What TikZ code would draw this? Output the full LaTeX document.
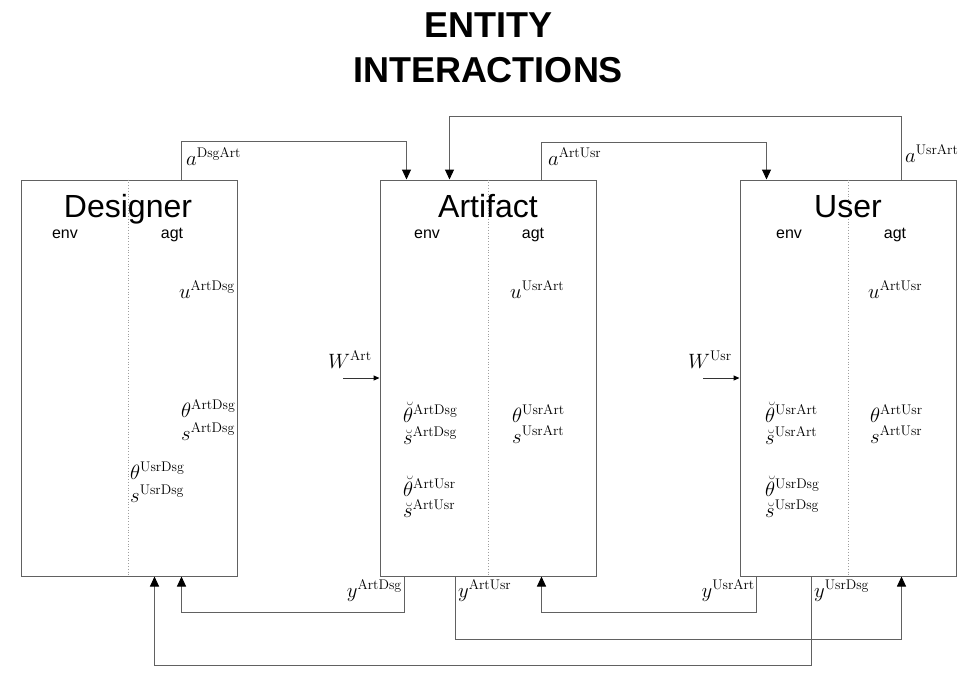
\documentclass[tikz,border=0pt]{standalone}
\usepackage{amsmath}
\usepackage{fontspec}
\setsansfont{Liberation Sans}
\usepackage{tikz}
\usetikzlibrary{arrows.meta, positioning}
\colorlet{linegray}{black!62}

\begin{document}
\begin{tikzpicture}[
  x=1pt, y=-1pt,
  entity/.style={draw=linegray, line width=1pt, minimum width=216pt, minimum height=396pt,
                 inner sep=0pt},
  divider/.style={draw=gray!75, dotted, line width=0.8pt},
  ename/.style={anchor=base, inner sep=0pt, font=\sffamily\fontsize{32}{38}\selectfont},
  side/.style={anchor=base, inner sep=0pt, font=\sffamily\fontsize{16}{19}\selectfont},
  sym/.style={inner sep=0pt, font=\fontsize{20}{24}\selectfont},
  arr/.style={draw=linegray, line width=1pt, -{Triangle[length=10pt, width=9pt, color=black]}},
  inarr/.style={draw=black!80, line width=1pt, -{Triangle[length=6pt, width=5pt, color=black]}},
  font=\sffamily
]
  \useasboundingbox (0,0) rectangle (976,681);
  \node[align=center, font=\sffamily\bfseries\fontsize{36}{45}\selectfont] (ttl) at (488,48) {ENTITY\\INTERACTIONS};

  \node[entity] (dsg) at (129,378) {};
  \node[entity, right=142pt of dsg] (art) {};
  \node[entity, right=143pt of art] (usr) {};

  \draw[divider] ([xshift=-1]dsg.north) -- ([xshift=-1]dsg.south);
  \draw[divider] (art.north) -- (art.south);
  \draw[divider] (usr.north) -- (usr.south);

  \node[ename] (dsgname) at (128,217) {Designer};
  \node[ename] (artname) at (488,217) {Artifact};
  \node[ename] (usrname) at (848,217) {User};
  \node[side] (dsgenv) at (65,238) {env};
  \node[side] (dsgagt) at (172,238) {agt};
  \node[side] (artenv) at (427,238) {env};
  \node[side] (artagt) at (533,238) {agt};
  \node[side] (usrenv) at (789,238) {env};
  \node[side] (usragt) at (895,238) {agt};

  \node[sym, anchor=base east] (uAD) at (235,298) {$u^{\mathrm{ArtDsg}}$};
  \node[sym, anchor=base west] (thAD) at (181,417) {$\theta^{\mathrm{ArtDsg}}$};
  \node[sym, anchor=base west] (sAD) at (181,440) {$s^{\mathrm{ArtDsg}}$};
  \node[sym, anchor=base west] (thUD) at (130,479) {$\theta^{\mathrm{UsrDsg}}$};
  \node[sym, anchor=base west] (sUD) at (130,502) {$s^{\mathrm{UsrDsg}}$};

  \node[sym, anchor=base west] (uUA) at (510,298) {$u^{\mathrm{UsrArt}}$};
  \node[sym, anchor=base west] (thUA) at (512,422) {$\theta^{\mathrm{UsrArt}}$};
  \node[sym, anchor=base west] (sUA) at (512,443) {$s^{\mathrm{UsrArt}}$};
  \node[sym, anchor=base west] (bthAD) at (403,422) {$\breve{\theta}^{\mathrm{ArtDsg}}$};
  \node[sym, anchor=base west] (bsAD) at (403,444) {$\breve{s}^{\mathrm{ArtDsg}}$};
  \node[sym, anchor=base west] (bthAU) at (403,496) {$\breve{\theta}^{\mathrm{ArtUsr}}$};
  \node[sym, anchor=base west] (bsAU) at (403,517) {$\breve{s}^{\mathrm{ArtUsr}}$};

  \node[sym, anchor=base west] (uAU) at (868,298) {$u^{\mathrm{ArtUsr}}$};
  \node[sym, anchor=base west] (thAU) at (870,422) {$\theta^{\mathrm{ArtUsr}}$};
  \node[sym, anchor=base west] (sAU) at (870,443) {$s^{\mathrm{ArtUsr}}$};
  \node[sym, anchor=base west] (bthUA) at (765,422) {$\breve{\theta}^{\mathrm{UsrArt}}$};
  \node[sym, anchor=base west] (bsUA) at (765,444) {$\breve{s}^{\mathrm{UsrArt}}$};
  \node[sym, anchor=base west] (bthUD) at (765,496) {$\breve{\theta}^{\mathrm{UsrDsg}}$};
  \node[sym, anchor=base west] (bsUD) at (765,517) {$\breve{s}^{\mathrm{UsrDsg}}$};

  \node[sym, anchor=base west] (aDA) at (186,165) {$a^{\mathrm{DsgArt}}$};
  \node[sym, anchor=base west] (aAU) at (548,165) {$a^{\mathrm{ArtUsr}}$};
  \node[sym, anchor=base west] (aUA) at (905,162) {$a^{\mathrm{UsrArt}}$};
  \node[sym, anchor=base east] (yAD) at (402,597) {$y^{\mathrm{ArtDsg}}$};
  \node[sym, anchor=base west] (yAU) at (458,597) {$y^{\mathrm{ArtUsr}}$};
  \node[sym, anchor=base east] (yUA) at (755,597) {$y^{\mathrm{UsrArt}}$};
  \node[sym, anchor=base west] (yUD) at (814,597) {$y^{\mathrm{UsrDsg}}$};
  \node[sym, anchor=base west] (wA) at (328,368) {$W^{\mathrm{Art}}$};
  \node[sym, anchor=base west] (wU) at (688,368) {$W^{\mathrm{Usr}}$};

  \coordinate (wAin) at (343,378);
  \coordinate (wUin) at (703,378);

  \draw[arr] ([xshift=161]dsg.north west) -- ++(0,-38) -| ([xshift=27]art.north west);
  \draw[arr] ([xshift=162]art.north west) -- ++(0,-37) -| ([xshift=27]usr.north west);
  \draw[arr] ([xshift=162]usr.north west) -- ++(0,-63) -| ([xshift=70]art.north west);
  \draw[arr] ([xshift=25]art.south west) -- ++(0,36) -| ([xshift=161]dsg.south west);
  \draw[arr] ([xshift=76]art.south west) -- ++(0,63) -| ([xshift=162]usr.south west);
  \draw[arr] ([xshift=17]usr.south west) -- ++(0,36) -| ([xshift=162]art.south west);
  \draw[arr] ([xshift=72]usr.south west) -- ++(0,89) -| ([xshift=134]dsg.south west);
  \draw[inarr] (wAin) -- (art.west);
  \draw[inarr] (wUin) -- (usr.west);
\end{tikzpicture}
\end{document}
